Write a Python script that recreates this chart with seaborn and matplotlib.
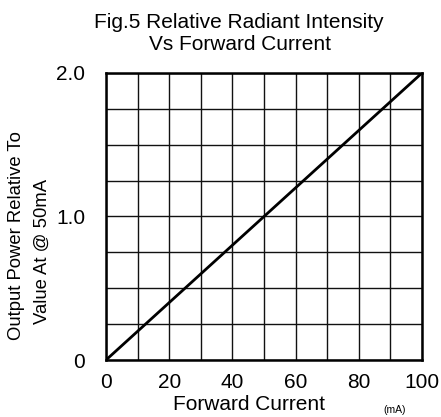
import matplotlib
matplotlib.use("Agg")
import matplotlib.pyplot as plt
import seaborn as sns
import pandas as pd
import numpy as np

current_ma = [0, 100]
relative_output = [0.0, 2.0]
x_ticks = [0, 20, 40, 60, 80, 100]
y_ticks = [0, 1.0, 2.0]
y_tick_labels = ["0", "1.0", "2.0"]

sns.set_style("white")
plt.rcParams['font.family'] = ['Liberation Sans', 'DejaVu Sans']
plt.rcParams['text.color'] = 'black'
plt.rcParams['xtick.color'] = 'black'
plt.rcParams['ytick.color'] = 'black'

fig = plt.figure(figsize=(4.41, 4.17), dpi=100)
ax = fig.add_axes([106/441, 1 - 360/417, (422-106)/441, (360-73)/417])

df = pd.DataFrame({"Current": current_ma, "Output": relative_output})
sns.lineplot(data=df, x="Current", y="Output", ax=ax, color="black", linewidth=2)

ax.set_xlim(0, 100)
ax.set_ylim(0, 2.0)
ax.set_xticks(np.arange(0, 101, 10), minor=True)
ax.set_yticks(np.arange(0, 2.01, 0.25), minor=True)
ax.set_xticks(x_ticks)
ax.set_xticklabels([str(t) for t in x_ticks])
ax.set_yticks(y_ticks)
ax.set_yticklabels(y_tick_labels)
ax.grid(True, which="both", color="#111111", linewidth=1.0)
ax.tick_params(which="both", length=0, labelsize=15, labelcolor="black")
ax.tick_params(axis="x", pad=9)
ax.tick_params(axis="y", pad=15)
for s in ax.spines.values():
    s.set_color("black")
    s.set_linewidth(1.8)
ax.set_xlabel("")
ax.set_ylabel("")

fig.text(238.5/441, 1 - 22/417, "Fig.5 Relative Radiant Intensity",
         ha="center", va="center", fontsize=15)
fig.text(240/441, 1 - 45/417, "Vs Forward Current",
         ha="center", va="center", fontsize=15)
fig.text(249/441, 1 - 405/417, "Forward Current", ha="center", va="center", fontsize=15)
fig.text(395/441, 1 - 410/417, "(mA)", ha="center", va="center", fontsize=7.5)
fig.text(17/441, 1 - 236/417, "Output Power Relative To", ha="center", va="center",
         rotation=90, fontsize=13.3)
fig.text(42/441, 1 - 251/417, "Value At @ 50mA", ha="center", va="center",
         rotation=90, fontsize=13.3)

fig.savefig("out.png", dpi=100)
